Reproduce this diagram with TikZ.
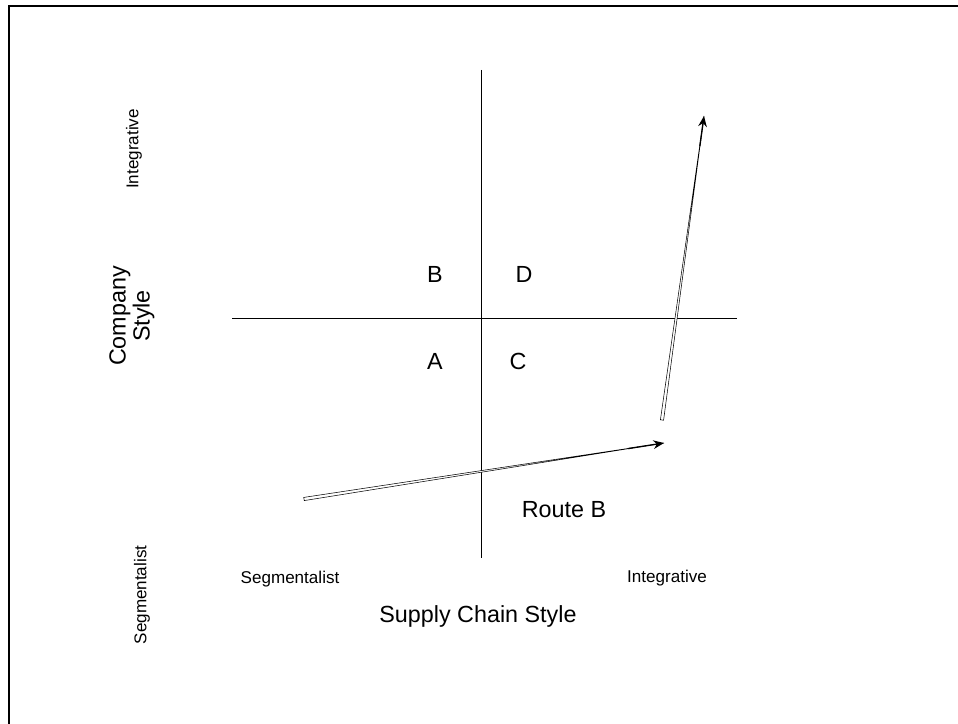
\documentclass[tikz,border=0pt]{standalone}
\usepackage{fontspec}
\setmainfont{Liberation Sans}
\usetikzlibrary{arrows.meta,calc}

\begin{document}
\begin{tikzpicture}[
  x=0.75pt, y=-0.75pt,
  biglabel/.style={font=\fontsize{17.5}{18}\selectfont, inner sep=0pt, align=center},
  smalllabel/.style={font=\fontsize{12.8}{14}\selectfont, inner sep=0pt},
  axisline/.style={line width=0.7pt},
  route/.style={fill=white, draw=black, line width=0.4pt},
  routetip/.style={-{Stealth[length=8pt, width=6.5pt]}, line width=1pt}
]
\useasboundingbox (0,0) rectangle (958,724);

% frame (only top and left edges are visible)
\draw[line width=1.6pt] (9,724) -- (9,6) -- (958,6);

% axes
\coordinate (yTop) at (481,70);
\coordinate (yBot) at (481,558);
\coordinate (xLeft) at (232,318);
\coordinate (xRight) at (737,318);
\draw[axisline] (yTop) -- (yBot);
\draw[axisline] (xLeft) -- (xRight);

% quadrant letters
\node[biglabel] (qB) at (435,274) {B};
\node[biglabel] (qD) at (524,274) {D};
\node[biglabel] (qA) at (435,361) {A};
\node[biglabel] (qC) at (518,361) {C};

% axis labels
\node[biglabel, rotate=90] (companyStyle) at (132,316) {Company\\Style};
\node[smalllabel, rotate=90] (yHigh) at (134,149) {Integrative};
\node[smalllabel, rotate=90] (yLow) at (142,595) {Segmentalist};
\node[smalllabel, anchor=base] (xLow) at (290,583) {Segmentalist};
\node[smalllabel, anchor=base] (xHigh) at (667,582) {Integrative};
\node[biglabel, anchor=base] (supplyStyle) at (478,622) {Supply Chain Style};
\node[biglabel, anchor=base] (routeB) at (564,517) {Route B};

% route arrows
\coordinate (routeStart) at (304,499);
\coordinate (routeTurn) at (664,443);
\coordinate (turnStart) at (662,420);
\coordinate (routeEnd) at (704,116);
\filldraw[route] ($(routeStart)!1.2pt!90:(routeTurn)$) -- (routeTurn)
  -- ($(routeStart)!1.2pt!-90:(routeTurn)$) -- cycle;
\draw[routetip] ($(routeStart)!0.9!(routeTurn)$) -- (routeTurn);
\filldraw[route] ($(turnStart)!1.2pt!90:(routeEnd)$) -- (routeEnd)
  -- ($(turnStart)!1.2pt!-90:(routeEnd)$) -- cycle;
\draw[routetip] ($(turnStart)!0.9!(routeEnd)$) -- (routeEnd);
\end{tikzpicture}
\end{document}
